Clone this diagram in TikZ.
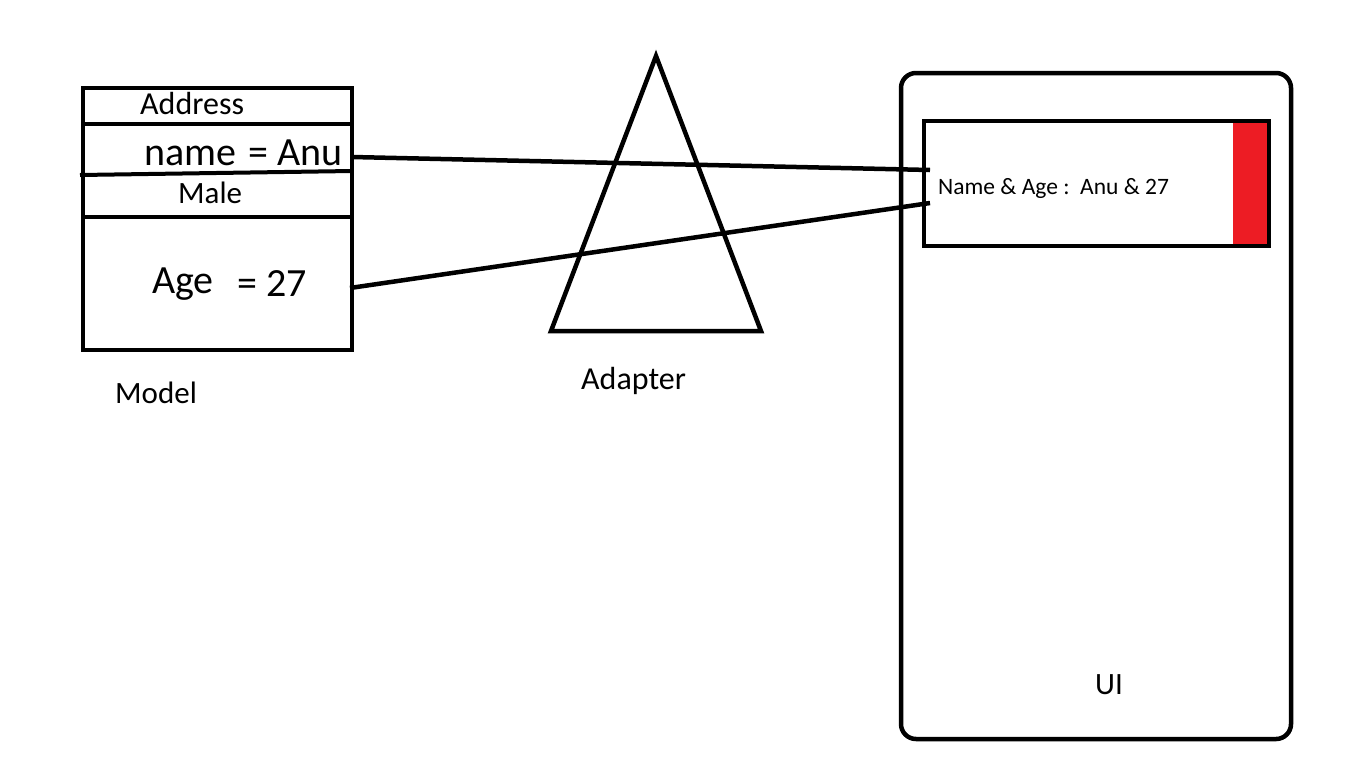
\documentclass[tikz,border=0pt]{standalone}
\usepackage{fontspec}
\setmainfont{Carlito}
\begin{document}
\begin{tikzpicture}[x=1pt,y=-1pt,
  ln/.style={line width=4.5pt},
  thin/.style={line width=4pt},
  lbl/.style={anchor=base west,inner sep=0pt,text=black},
  f32/.style={font=\fontsize{32}{36}\selectfont},
  f31/.style={font=\fontsize{31}{36}\selectfont},
  f40/.style={font=\fontsize{40}{46}\selectfont},
  f23/.style={font=\fontsize{23.5}{28}\selectfont}]
\useasboundingbox (0,0) rectangle (1346,782);
% Model box
\draw[ln] (83,88) rectangle (352,350);
\draw[thin] (83,124) -- (352,124);
\draw[thin] (80,175) -- (352,171);
\draw[thin] (83,217) -- (352,217);
\node[lbl,f32] (addr) at (140,114) {Address};
\node[lbl,f40] (name) at (144,165) {name};
\node[lbl,f40] (nameval) at (248,165) {= Anu};
\node[lbl,f31] (male) at (178,203) {Male};
\node[lbl,f40] (age) at (152,293) {Age};
\node[lbl,f40] (ageval) at (237,296) {= 27};
\node[lbl,f31] (model) at (115,403) {Model};
\coordinate (nameR) at (352,157);
\coordinate (ageR) at (350,288);
% Adapter triangle
\draw[ln,line join=miter] (656,56) -- (761,331) -- (551,331) -- cycle;
\node[lbl,f32] (adapter) at (581,389) {Adapter};
% UI
\draw[ln,rounded corners=15pt] (901,73) rectangle (1291,739);
\node[lbl,f31] (ui) at (1095,694) {UI};
\fill[fill={rgb,255:red,237;green,28;blue,36}] (1233,121) rectangle (1268,246);
\draw[ln] (924,121) rectangle (1269,246);
\draw[line width=3pt,draw={rgb,255:red,237;green,28;blue,36}] (1234,123) -- (1234,244);
\node[lbl,f23] (row) at (938,194) {Name \& Age :\ \ Anu \& 27};
\coordinate (rowA) at (930,170);
\coordinate (rowB) at (930,203);
% connectors
\draw[ln] (nameR) -- (rowA);
\draw[ln] (ageR) -- (rowB);
\end{tikzpicture}
\end{document}
